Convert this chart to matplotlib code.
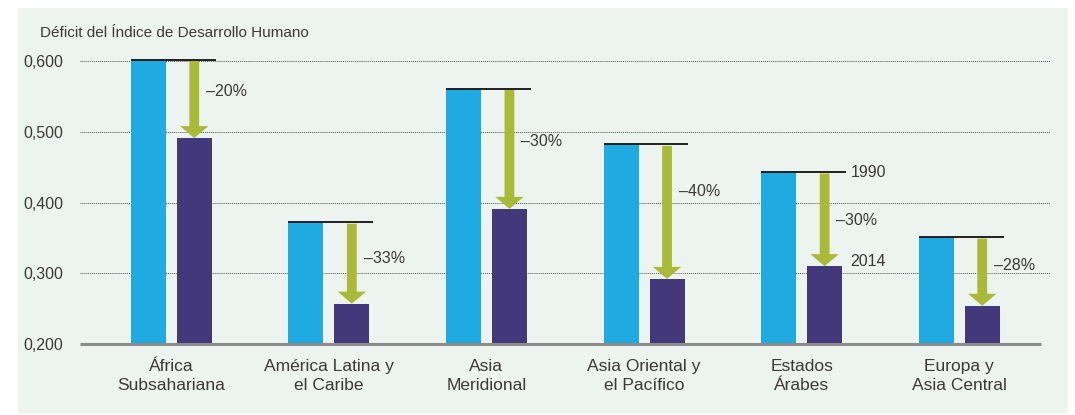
import matplotlib
matplotlib.use("Agg")
import matplotlib.pyplot as plt
from matplotlib.patches import FancyArrow, Rectangle

# data
regions = ["África\nSubsahariana", "América Latina y\nel Caribe", "Asia\nMeridional",
           "Asia Oriental y\nel Pacífico", "Estados\nÁrabes", "Europa y\nAsia Central"]
deficit_1990 = [0.602, 0.372, 0.561, 0.482, 0.443, 0.351]
deficit_2014 = [0.491, 0.257, 0.391, 0.292, 0.310, 0.254]
change_labels = ["–20%", "–33%", "–30%", "–40%", "–30%", "–28%"]
yticks = [0.2, 0.3, 0.4, 0.5, 0.6]
ytick_labels = ["0,200", "0,300", "0,400", "0,500", "0,600"]

# where the % label sits along each arrow (0 = 1990 level, 1 = 2014 level)
label_frac = [0.41, 0.45, 0.44, 0.35, 0.51, 0.42]

BLUE = "#1faae1"
PURPLE = "#42387a"
OLIVE = "#a9b938"
BG = "#edf3ef"
TXT = "#3a3a3a"

plt.rcParams["font.family"] = ["Liberation Sans", "DejaVu Sans"]

fig = plt.figure(figsize=(10.75, 4.15), dpi=100)
fig.patches.append(Rectangle((18 / 1075, 2 / 415), 1050 / 1075, 405 / 415,
                             transform=fig.transFigure, facecolor=BG,
                             edgecolor="none", zorder=-10))

ax = fig.add_axes([80 / 1075, 71 / 415, 970 / 1075, 318 / 415])
ax.set_facecolor("none")
ax.set_ylim(0.2, 0.6495)
ax.set_xlim(-0.579, 5.576)

off = 0.146
w = 0.222
x = list(range(len(regions)))
ax.bar([i - off for i in x], deficit_1990, width=w, bottom=0, color=BLUE, zorder=3)
ax.bar([i + off for i in x], deficit_2014, width=w, bottom=0, color=PURPLE, zorder=3)

for i in x:
    top = deficit_1990[i]
    low = deficit_2014[i]
    # reference line at the 1990 level
    ax.plot([i - off - w / 2, i + off + w / 2 + 0.025], [top, top],
            color="#111111", lw=1.3, zorder=4, solid_capstyle="butt")
    # arrow 1990 -> 2014
    ax.add_patch(FancyArrow(i + off, top - 0.002, 0, low - top + 0.002,
                            width=0.062, head_width=0.18, head_length=0.017,
                            length_includes_head=True, color=OLIVE,
                            linewidth=0, zorder=4))
    ax.text(i + off + 0.075, top - label_frac[i] * (top - low),
            change_labels[i], fontsize=11.5, color=TXT, va="center", ha="left")

# year labels next to Estados Árabes
ax.text(4 + off + 0.165, deficit_1990[4], "1990", fontsize=11.5, color=TXT, va="center")
ax.text(4 + off + 0.16, deficit_2014[4] + 0.007, "2014", fontsize=11.5, color=TXT, va="center")

ax.set_yticks(yticks)
ax.set_yticklabels(ytick_labels, fontsize=11.5, color=TXT)
ax.set_xticks(x)
ax.set_xticklabels(regions, fontsize=12.5, color=TXT, linespacing=1.3)
ax.tick_params(axis="both", length=0)
ax.tick_params(axis="x", pad=11)
ax.tick_params(axis="y", pad=12)

for y in yticks[1:]:
    ax.axhline(y, color="#555555", lw=0.7, ls=(0, (1, 1)), zorder=1)
ax.plot([-0.579, 5.52], [0.2, 0.2], color="#8c8c8c", lw=2.2, zorder=5,
        clip_on=False, solid_capstyle="butt")

for s in ax.spines.values():
    s.set_visible(False)

fig.text(40 / 1075, 1 - 33 / 415, "Déficit del Índice de Desarrollo Humano",
         fontsize=11, color=TXT, va="center", ha="left")

fig.savefig("out.png", dpi=100)
